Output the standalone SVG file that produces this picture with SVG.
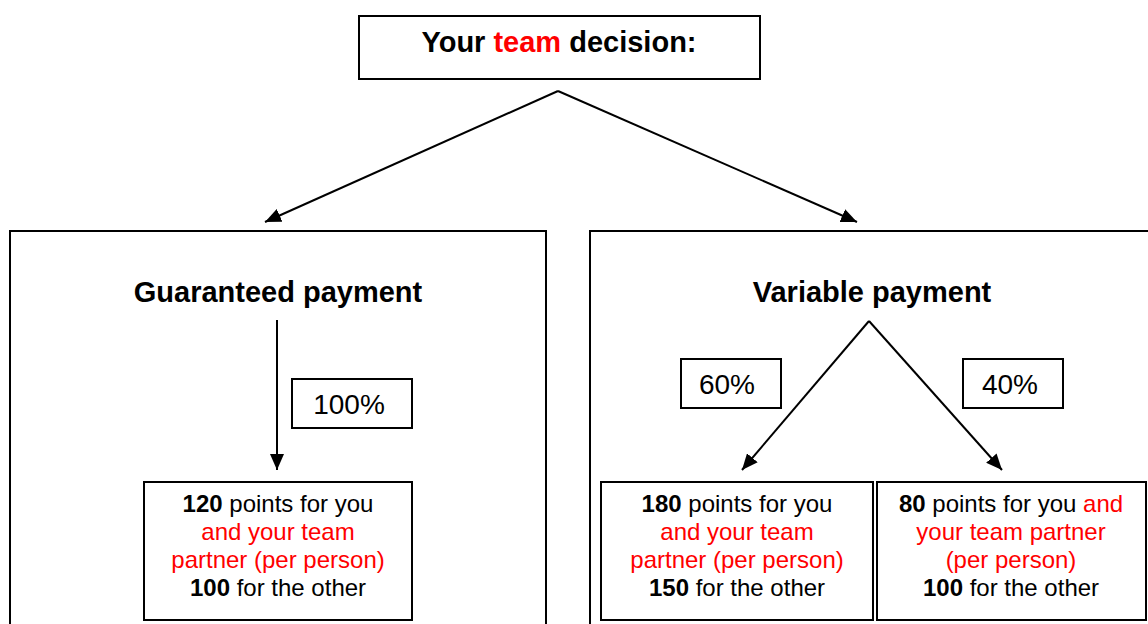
<svg xmlns="http://www.w3.org/2000/svg" width="1148" height="624" viewBox="0 0 1148 624">
<defs>
<marker id="ah" markerUnits="userSpaceOnUse" markerWidth="18" markerHeight="14" refX="16" refY="7" orient="auto">
<path d="M0,0 L16,7 L0,14 Z" fill="#000"/>
</marker>
<style>
.box{fill:#fff;stroke:#000;stroke-width:2}
.t{font-family:"Liberation Sans",Arial,sans-serif;fill:#000;text-anchor:middle}
.h{font-size:29px;font-weight:bold}
.b{font-size:24px}
.p{font-size:28px}
.r{fill:#ff0000}
.bd{font-weight:bold}
.c{fill:none;stroke:#000;stroke-width:2;marker-end:url(#ah)}
</style>
</defs>
<rect width="1148" height="624" fill="#fff"/>
<g id="decision">
<rect class="box" x="359" y="16" width="401" height="63"/>
<text class="t h" x="559" y="52">Your <tspan class="r">team</tspan> decision:</text>
</g>
<g id="guaranteed">
<rect class="box" x="10" y="231" width="536" height="400"/>
<text class="t h" x="278" y="302">Guaranteed payment</text>
</g>
<g id="variable">
<rect class="box" x="590" y="231" width="570" height="400"/>
<text class="t h" x="872" y="302">Variable payment</text>
</g>
<g id="p100">
<rect class="box" x="292" y="379" width="120" height="49"/>
<text class="t p" x="349" y="414">100%</text>
</g>
<g id="p60">
<rect class="box" x="681" y="359" width="100" height="49"/>
<text class="t p" x="727" y="394">60%</text>
</g>
<g id="p40">
<rect class="box" x="963" y="359" width="100" height="49"/>
<text class="t p" x="1010" y="394">40%</text>
</g>
<g id="out120">
<rect class="box" x="144" y="482" width="268" height="138"/>
<text class="t b" x="278" y="512"><tspan class="bd">120</tspan> points for you</text>
<text class="t b r" x="278" y="540">and your team</text>
<text class="t b r" x="278" y="568">partner (per person)</text>
<text class="t b" x="278" y="596"><tspan class="bd">100</tspan> for the other</text>
</g>
<g id="out180">
<rect class="box" x="601" y="482" width="272" height="138"/>
<text class="t b" x="737" y="512"><tspan class="bd">180</tspan> points for you</text>
<text class="t b r" x="737" y="540">and your team</text>
<text class="t b r" x="737" y="568">partner (per person)</text>
<text class="t b" x="737" y="596"><tspan class="bd">150</tspan> for the other</text>
</g>
<g id="out80">
<rect class="box" x="877" y="482" width="269" height="138"/>
<text class="t b" x="1011" y="512"><tspan class="bd">80</tspan> points for you <tspan class="r">and</tspan></text>
<text class="t b r" x="1011" y="540">your team partner</text>
<text class="t b r" x="1011" y="568">(per person)</text>
<text class="t b" x="1011" y="596"><tspan class="bd">100</tspan> for the other</text>
</g>
<g id="connectors">
<line class="c" x1="558" y1="91" x2="265" y2="222"/>
<line class="c" x1="558" y1="91" x2="857" y2="222"/>
<line class="c" x1="277" y1="320" x2="277" y2="470"/>
<line class="c" x1="869" y1="321" x2="742" y2="470"/>
<line class="c" x1="869" y1="321" x2="1002" y2="470"/>
</g>
</svg>
